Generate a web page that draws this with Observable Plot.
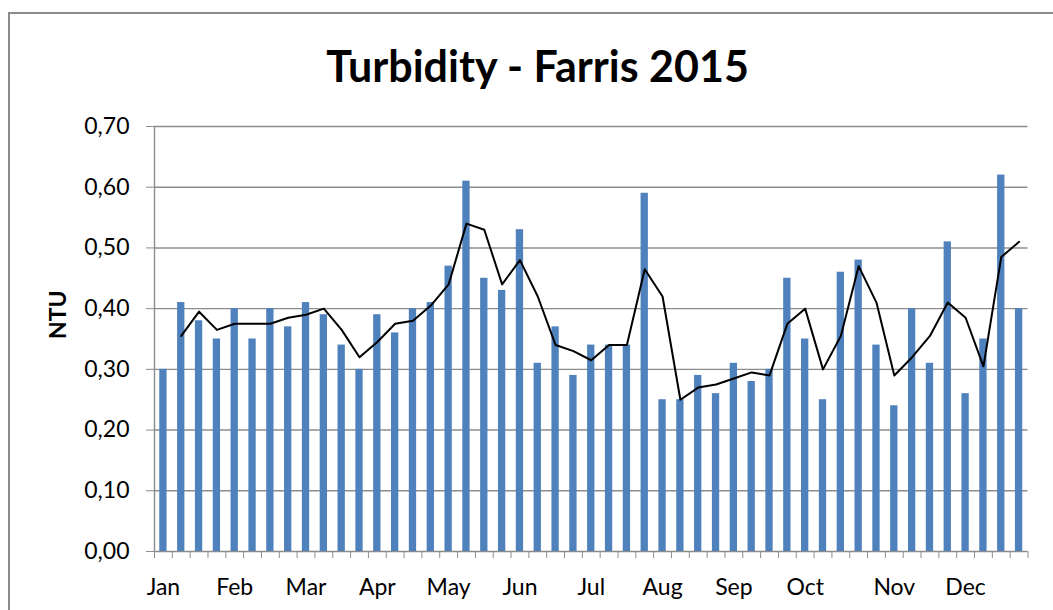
<!DOCTYPE html>
<html><head><meta charset="utf-8">
<script src="https://cdn.jsdelivr.net/npm/d3@7"></script>
<script src="https://cdn.jsdelivr.net/npm/@observablehq/plot@0.6"></script>
<style>
html,body{margin:0;padding:0;background:#fff;width:1053px;height:610px;overflow:hidden;}
#frame{position:absolute;left:8px;top:12px;width:1100px;height:700px;border:2px solid #8c8c8c;box-sizing:border-box;}
#title{position:relative;margin-left:8px;width:1059px;height:100px;box-sizing:border-box;padding-top:40px;text-align:center;font:700 43px Lato, sans-serif;line-height:1.2;color:#000;white-space:nowrap;}
#chart{position:relative;}
</style></head>
<body><div id="frame"></div><div id="title">Turbidity - Farris 2015</div><div id="chart"></div>
<script>
const weeks = [1,2,3,4,5,6,7,8,9,10,11,12,13,14,15,16,17,18,19,20,21,22,23,24,25,26,27,28,29,30,31,32,33,34,35,36,37,38,39,40,41,42,43,44,45,46,47,48,49];
const turbidity = [0.30,0.41,0.38,0.35,0.40,0.35,0.40,0.37,0.41,0.39,0.34,0.30,0.39,0.36,0.40,0.41,0.47,0.61,0.45,0.43,0.53,0.31,0.37,0.29,0.34,0.34,0.34,0.59,0.25,0.25,0.29,0.26,0.31,0.28,0.30,0.45,0.35,0.25,0.46,0.48,0.34,0.24,0.40,0.31,0.51,0.26,0.35,0.62,0.40];
const trendWeeks = [2,3,4,5,6,7,8,9,10,11,12,13,14,15,16,17,18,19,20,21,22,23,24,25,26,27,28,29,30,31,32,33,34,35,36,37,38,39,40,41,42,43,44,45,46,47,48,49];
const trendValues = [0.355,0.395,0.365,0.375,0.375,0.375,0.385,0.39,0.40,0.365,0.32,0.345,0.375,0.38,0.405,0.44,0.54,0.53,0.44,0.48,0.42,0.34,0.33,0.315,0.34,0.34,0.465,0.42,0.25,0.27,0.275,0.285,0.295,0.29,0.375,0.40,0.30,0.355,0.47,0.41,0.29,0.32,0.355,0.41,0.385,0.305,0.485,0.51];
const monthLabels = ["Jan","Feb","Mar","Apr","May","Jun","Jul","Aug","Sep","Oct","Nov","Dec"];
const monthLabelWeeks = [1,5,9,13,17,21,25,29,33,37,42,46];
const yTicks = [0,0.1,0.2,0.3,0.4,0.5,0.6,0.7];

const bars = weeks.map((w,i)=>({week:w, value:turbidity[i]}));
const trend = trendWeeks.map((w,i)=>({week:w, value:trendValues[i]}));
const boundaries = d3.range(weeks[0]-0.5, weeks[weeks.length-1]+1, 1);
const grid = "#8c8c8c";
const fmt = d => d.toFixed(2).replace(".", ",");
const halfBar = 0.205;

const chart = Plot.plot({
  width:1053, height:510, marginTop:26, marginBottom:59, marginLeft:154, marginRight:25.5,
  style:{fontFamily:"Lato, sans-serif", fontSize:"23px", color:"#000", background:"transparent", overflow:"visible"},
  x:{type:"linear", domain:[0.5,49.5]},
  y:{domain:[0,0.7]},
  marks:[
    Plot.ruleY(yTicks,{stroke:grid, strokeWidth:1.4}),
    Plot.ruleX([0.5],{y1:0,y2:0.7, stroke:grid, strokeWidth:1.4}),
    Plot.rect(bars,{x1:d=>d.week-halfBar, x2:d=>d.week+halfBar, y1:0, y2:"value", fill:"#4f81bd"}),
    Plot.line(trend,{x:"week", y:"value", stroke:"#000", strokeWidth:2}),
    Plot.axisY({ticks:yTicks, tickFormat:fmt, tickSize:8, tickPadding:17, stroke:grid, fill:"#000", label:null}),
    Plot.axisX({ticks:boundaries, tickSize:7, tickFormat:()=>"", stroke:grid, label:null}),
    Plot.axisX({ticks:monthLabelWeeks, tickSize:0, tickPadding:27, fill:"#000", tickFormat:w=>monthLabels[monthLabelWeeks.indexOf(w)], label:null}),
    Plot.text(["NTU"],{text:d=>d, frameAnchor:"left", rotate:-90, dx:-96, fontWeight:"bold", fontSize:23, fill:"#000"})
  ]
});
document.getElementById("chart").appendChild(chart);
</script>
</body></html>
